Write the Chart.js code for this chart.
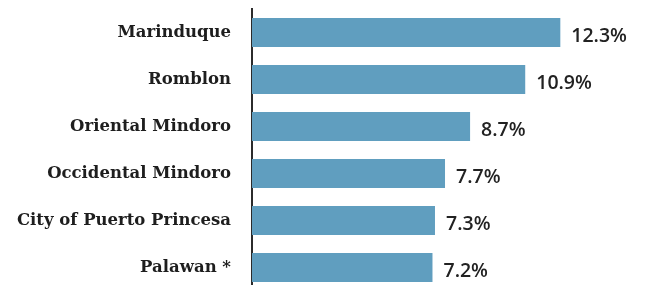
<!DOCTYPE html>
<html>
<head>
<meta charset="utf-8">
<script src="https://cdn.jsdelivr.net/npm/chart.js@4/dist/chart.umd.min.js"></script>
<style>
  html, body { margin: 0; padding: 0; background: #fff; overflow: hidden; }
  #wrap { width: 646px; height: 296px; }
</style>
</head>
<body>
<div id="wrap"><canvas id="rateChart"></canvas></div>
<script>
let provinces = ['Marinduque', 'Romblon', 'Oriental Mindoro', 'Occidental Mindoro', 'City of Puerto Princesa', 'Palawan *'];
let rates = [12.3, 10.9, 8.7, 7.7, 7.3, 7.2];

// draws the "12.3%" style value after each bar
const valueLabels = {
    id: 'valueLabels',
    afterDatasetsDraw(chart) {
        const ctx = chart.ctx;
        const meta = chart.getDatasetMeta(0);
        ctx.save();
        ctx.font = '600 19.5px "Open Sans"';
        ctx.fillStyle = '#222';
        ctx.textAlign = 'left';
        ctx.textBaseline = 'middle';
        meta.data.forEach((bar, i) => {
            ctx.fillText(rates[i].toFixed(1) + '%', bar.x + 11, bar.y + 4);
        });
        ctx.restore();
    }
};

new Chart(document.getElementById('rateChart'), {
    type: 'bar',
    data: {
        labels: provinces,
        datasets: [
            {
                data: rates,
                backgroundColor: '#609ebf',
                borderWidth: 0,
                barPercentage: 0.62,
                categoryPercentage: 1
            }
        ]
    },
    options: {
        indexAxis: 'y',
        responsive: true,
        maintainAspectRatio: false,
        animation: false,
        layout: {
            padding: { top: 9, right: 18, bottom: 5, left: 0 }
        },
        plugins: {
            legend: { display: false },
            tooltip: { enabled: false }
        },
        scales: {
            x: {
                display: false,
                min: 0,
                max: 15
            },
            y: {
                afterFit(scale) {
                    scale.width = 252;
                    scale.paddingTop = 0;
                    scale.paddingBottom = 0;
                },
                grid: { display: false, drawTicks: false },
                border: { display: true, color: '#2b2b2b', width: 2 },
                ticks: {
                    padding: 21,
                    color: '#1e1e1e',
                    font: { family: '"DejaVu Serif"', size: 16.5, weight: 'bold' }
                }
            }
        }
    },
    plugins: [valueLabels]
});
</script>
</body>
</html>
